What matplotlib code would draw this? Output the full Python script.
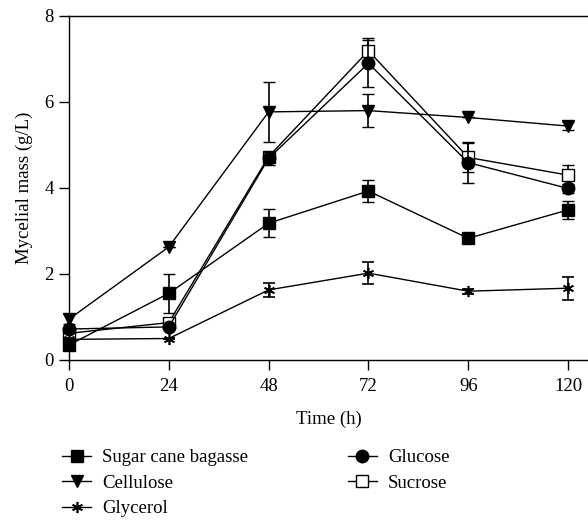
import matplotlib
matplotlib.use("Agg")
import matplotlib.pyplot as plt
from matplotlib.lines import Line2D

plt.rcParams['font.family'] = ['Liberation Serif', 'DejaVu Serif']

time_h = [0, 24, 48, 72, 96, 120]
series_names = ["Sugar cane bagasse", "Cellulose", "Glycerol", "Glucose", "Sucrose"]

bagasse = [0.35, 1.55, 3.18, 3.93, 2.83, 3.49]
bagasse_err = [0.08, 0.45, 0.33, 0.26, 0.10, 0.20]
cellulose = [0.95, 2.63, 5.77, 5.80, 5.64, 5.44]
cellulose_err = [0.12, 0.0, 0.70, 0.39, 0.0, 0.10]
glycerol = [0.48, 0.50, 1.63, 2.02, 1.60, 1.67]
glycerol_err = [0.0, 0.0, 0.16, 0.26, 0.06, 0.27]
glucose = [0.72, 0.77, 4.69, 6.90, 4.59, 3.99]
glucose_err = [0.05, 0.05, 0.15, 0.55, 0.48, 0.10]
sucrose = [0.62, 0.87, 4.73, 7.19, 4.71, 4.30]
sucrose_err = [0.05, 0.05, 0.11, 0.29, 0.33, 0.23]

y_ticks = [0, 2, 4, 6, 8]
x_ticks = [0, 24, 48, 72, 96, 120]

fig = plt.figure(figsize=(5.88, 5.20), dpi=100)
ax = fig.add_axes([69/588, 1 - 360/520, 1 - 69/588, (360 - 16)/520])

styles = [
    dict(marker='s', mfc='black', ms=9),
    dict(marker='v', mfc='black', ms=9),
    dict(marker=(6, 2, 0), mfc='black', ms=8, mew=1.2),
    dict(marker='o', mfc='black', ms=9),
    dict(marker='s', mfc='white', ms=9),
]
data = [(bagasse, bagasse_err), (cellulose, cellulose_err), (glycerol, glycerol_err),
        (glucose, glucose_err), (sucrose, sucrose_err)]
zorders = [6, 5, 4, 4, 3]

handles = []
for name, (vals, errs), st, zo in zip(series_names, data, styles, zorders):
    mew = st.pop('mew', 1.0)
    eb = ax.errorbar(time_h, vals, yerr=errs, color='black', lw=1.0, capsize=4.5,
                     capthick=1.4, elinewidth=1.2, mec='black', mew=mew, clip_on=False,
                     zorder=zo, **st)
    eb[0].set_clip_on(False)
    for c in eb[1]:
        c.set_clip_on(False)
    for c in eb[2]:
        c.set_clip_on(False)
    handles.append(Line2D([], [], color='black', lw=1.0, mec='black', mew=mew, **st))

ax.set_xlim(0, 124.8)
ax.set_ylim(0, 8)
ax.set_xticks(x_ticks)
ax.set_yticks(y_ticks)
ax.spines['right'].set_visible(False)
for s in ['left', 'bottom', 'top']:
    ax.spines[s].set_linewidth(1.0)
ax.tick_params(direction='out', length=7, width=1.0, labelsize=13.5)
ax.tick_params(axis='x', pad=6)
ax.tick_params(axis='y', pad=4)
ax.set_xlabel("Time (h)", fontsize=13.5, labelpad=11)
ax.set_ylabel("Mycelial mass (g/L)", fontsize=13.5, labelpad=8)

fig.legend(handles, series_names, ncol=2, loc='upper left',
           bbox_to_anchor=(62/588, 1 - 449/520), frameon=False, fontsize=13.5,
           handlelength=1.55, handletextpad=0.6, columnspacing=5.3, labelspacing=0.45,
           borderaxespad=0, borderpad=0)

fig.savefig("out.png", dpi=100)
